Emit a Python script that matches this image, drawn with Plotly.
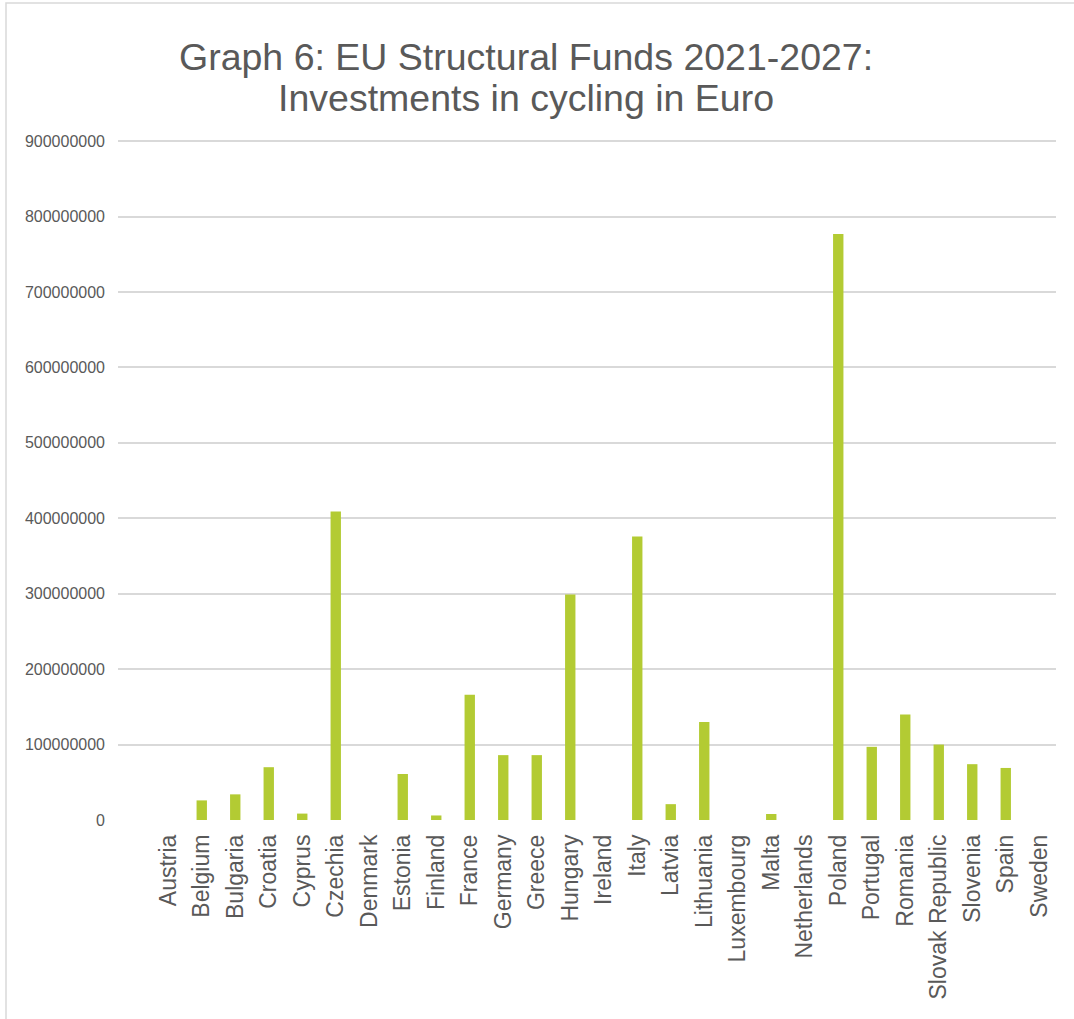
import plotly.graph_objects as go

# EU Structural Funds 2021-2027 cycling investments per member state (Euro)
countries = [
    "Austria", "Belgium", "Bulgaria", "Croatia", "Cyprus", "Czechia", "Denmark",
    "Estonia", "Finland", "France", "Germany", "Greece", "Hungary", "Ireland",
    "Italy", "Latvia", "Lithuania", "Luxembourg", "Malta", "Netherlands",
    "Poland", "Portugal", "Romania", "Slovak Republic", "Slovenia", "Spain", "Sweden",
]
investment_eur = [
    0, 26_000_000, 34_000_000, 70_000_000, 8_500_000, 409_000_000, 0,
    61_000_000, 6_000_000, 166_000_000, 86_000_000, 86_000_000, 299_000_000, 0,
    376_000_000, 21_000_000, 130_000_000, 0, 8_000_000, 0,
    777_000_000, 97_000_000, 140_000_000, 100_000_000, 74_000_000, 69_000_000, 0,
]
y_ticks = [0, 100_000_000, 200_000_000, 300_000_000, 400_000_000,
           500_000_000, 600_000_000, 700_000_000, 800_000_000, 900_000_000]
title_lines = ["Graph 6: EU Structural Funds 2021-2027:", "Investments in cycling in Euro"]

W, H = 1074, 1019
L, R, T, B = 118, 18, 140, 199
plot_w = W - L - R
plot_h = H - T - B

TEXT = "#595959"
GRID = "#D9D9D9"
BAR = "#B3CB33"
FONT = "Liberation Sans, Arial, sans-serif"


def px_to_paper_x(px):
    return (px - L) / plot_w


def px_to_paper_y(py):
    return (H - B - py) / plot_h


fig = go.Figure(
    go.Bar(
        x=countries,
        y=investment_eur,
        marker=dict(color=BAR, line=dict(width=0)),
        width=0.31,
        hoverinfo="x+y",
    )
)

fig.update_layout(
    width=W,
    height=H,
    margin=dict(l=L, r=R, t=T, b=B, pad=0),
    paper_bgcolor="white",
    plot_bgcolor="white",
    showlegend=False,
    font=dict(family=FONT, color=TEXT),
)

fig.update_xaxes(
    type="category",
    range=[-1.5, len(countries) - 0.5],
    tickangle=-90,
    tickfont=dict(size=23, color=TEXT, family=FONT),
    showgrid=False,
    showline=False,
    zeroline=False,
    ticks="",
    ticklabelstandoff=9,
)

# slight headroom above the top tick keeps its gridline visible
fig.update_yaxes(
    range=[0, 901_500_000],
    tickvals=y_ticks,
    tickformat="d",
    tickfont=dict(size=16, color=TEXT, family=FONT),
    showgrid=True,
    gridcolor=GRID,
    gridwidth=1.5,
    zeroline=False,
    showline=False,
    ticks="",
    ticklabelstandoff=12,
)

# Chart frame
fig.add_shape(
    type="rect",
    xref="paper", yref="paper",
    x0=px_to_paper_x(6), x1=px_to_paper_x(W + 20),
    y0=px_to_paper_y(H + 20), y1=px_to_paper_y(3),
    line=dict(color=GRID, width=1.5),
    fillcolor="rgba(0,0,0,0)",
    layer="below",
)

# Two-line title
for line, py in zip(title_lines, [57, 98]):
    fig.add_annotation(
        text=line,
        xref="paper", yref="paper",
        x=px_to_paper_x(526), y=px_to_paper_y(py),
        xanchor="center", yanchor="middle",
        showarrow=False,
        font=dict(size=37.5, color=TEXT, family=FONT),
    )

fig.write_html("out.html")
